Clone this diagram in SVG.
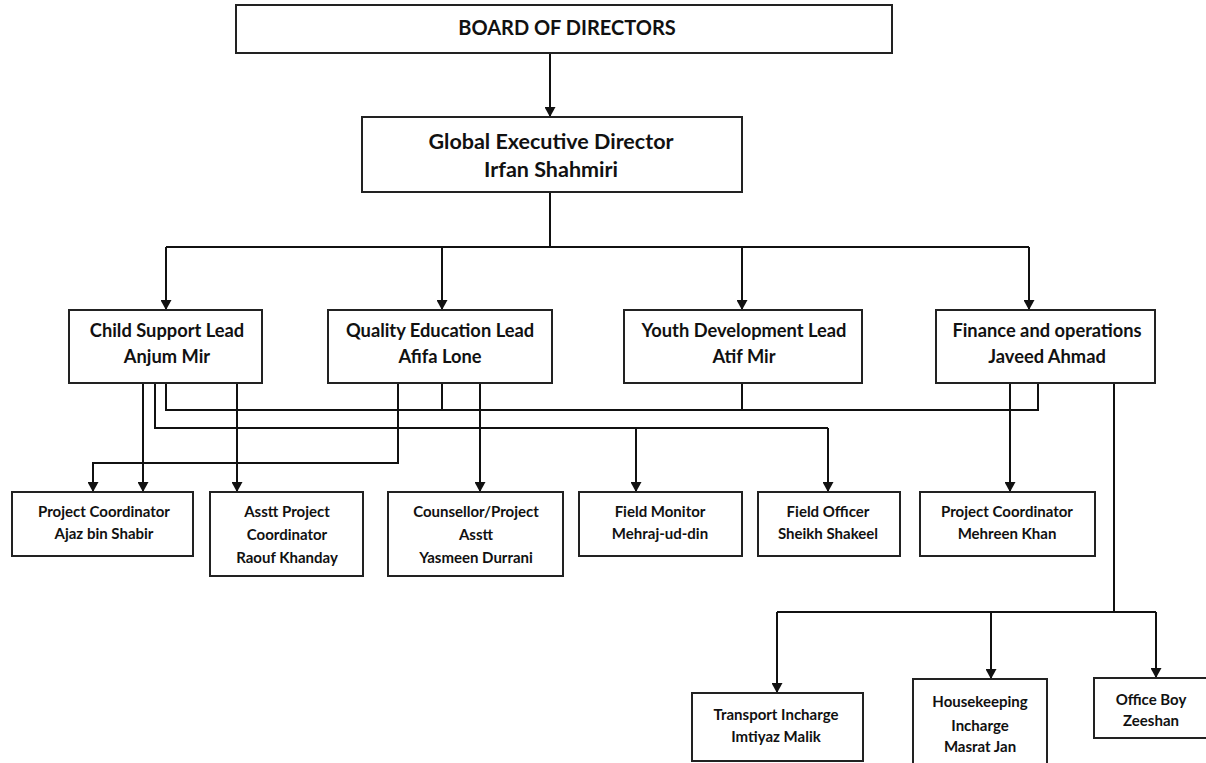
<svg xmlns="http://www.w3.org/2000/svg" width="1206" height="763" viewBox="0 0 1206 763">
<style>
.box{fill:#fff;stroke:#222;stroke-width:2}
.ln{fill:none;stroke:#111;stroke-width:2}
.ar{fill:none;stroke:#111;stroke-width:2;marker-end:url(#arr)}
text{font-family:Lato,"Liberation Sans",sans-serif;font-weight:bold;fill:#111;text-anchor:middle}
.t0{font-size:20px}
.t1{font-size:21.5px}
.t2{font-size:18.3px}
.t3{font-size:15px}
</style>
<defs>
<marker id="arr" markerUnits="userSpaceOnUse" markerWidth="11" markerHeight="11" refX="10" refY="5.5" orient="auto">
<path d="M0,0 L10,5.5 L0,11 z" fill="#111"/>
</marker>
</defs>
<rect width="1206" height="763" fill="#fff"/>
<g id="connectors">
<path class="ar" d="M550,53 V117"/>
<path class="ln" d="M550,192 V247 M166,247 H1029"/>
<path class="ar" d="M166,247 V310"/>
<path class="ar" d="M442,247 V310"/>
<path class="ar" d="M742,247 V310"/>
<path class="ar" d="M1029,247 V310"/>
<path class="ln" d="M166,383 V410 H1038 V383 M442,383 V410 M742,383 V410"/>
<path class="ln" d="M155,383 V428 H828"/>
<path class="ar" d="M636,428 V492"/>
<path class="ar" d="M828,428 V492"/>
<path class="ar" d="M143,383 V492"/>
<path class="ar" d="M237,383 V492"/>
<path class="ar" d="M398,383 V463 H93 V492"/>
<path class="ar" d="M480,383 V492"/>
<path class="ar" d="M1010,383 V492"/>
<path class="ln" d="M1114,383 V612 M777,612 H1156"/>
<path class="ar" d="M777,612 V693"/>
<path class="ar" d="M991,612 V679"/>
<path class="ar" d="M1156,612 V678"/>
</g>
<g id="board"><rect class="box" x="236" y="5" width="656" height="48"/><text class="t0" x="567" y="35">BOARD OF DIRECTORS</text></g>
<g id="ged"><rect class="box" x="362" y="117" width="380" height="75"/><text class="t1" x="551" y="149">Global Executive Director</text><text class="t1" x="551" y="177">Irfan Shahmiri</text></g>
<g id="child-support"><rect class="box" x="69" y="310" width="193" height="73"/><text class="t2" x="167" y="337">Child Support Lead</text><text class="t2" x="167" y="363">Anjum Mir</text></g>
<g id="quality-education"><rect class="box" x="328" y="310" width="224" height="73"/><text class="t2" x="440" y="337">Quality Education Lead</text><text class="t2" x="440" y="363">Afifa Lone</text></g>
<g id="youth-development"><rect class="box" x="624" y="310" width="238" height="73"/><text class="t2" x="744" y="337">Youth Development Lead</text><text class="t2" x="744" y="363">Atif Mir</text></g>
<g id="finance"><rect class="box" x="936" y="310" width="219" height="73"/><text class="t2" x="1047" y="337">Finance and operations</text><text class="t2" x="1047" y="363">Javeed Ahmad</text></g>
<g id="pc-ajaz"><rect class="box" x="12" y="492" width="181" height="64"/><text class="t3" x="104" y="517">Project Coordinator</text><text class="t3" x="104" y="539">Ajaz bin Shabir</text></g>
<g id="apc-raouf"><rect class="box" x="210" y="492" width="153" height="84"/><text class="t3" x="287" y="517">Asstt Project</text><text class="t3" x="287" y="540">Coordinator</text><text class="t3" x="287" y="563">Raouf Khanday</text></g>
<g id="counsellor"><rect class="box" x="388" y="492" width="175" height="84"/><text class="t3" x="476" y="517">Counsellor/Project</text><text class="t3" x="476" y="540">Asstt</text><text class="t3" x="476" y="563">Yasmeen Durrani</text></g>
<g id="field-monitor"><rect class="box" x="579" y="492" width="163" height="64"/><text class="t3" x="660" y="517">Field Monitor</text><text class="t3" x="660" y="539">Mehraj-ud-din</text></g>
<g id="field-officer"><rect class="box" x="758" y="492" width="142" height="64"/><text class="t3" x="828" y="517">Field Officer</text><text class="t3" x="828" y="539">Sheikh Shakeel</text></g>
<g id="pc-mehreen"><rect class="box" x="920" y="492" width="175" height="64"/><text class="t3" x="1007" y="517">Project Coordinator</text><text class="t3" x="1007" y="539">Mehreen Khan</text></g>
<g id="transport"><rect class="box" x="692" y="693" width="171" height="68"/><text class="t3" x="776" y="720">Transport Incharge</text><text class="t3" x="776" y="742">Imtiyaz Malik</text></g>
<g id="housekeeping"><rect class="box" x="913" y="679" width="134" height="100"/><text class="t3" x="980" y="707">Housekeeping</text><text class="t3" x="980" y="731">Incharge</text><text class="t3" x="980" y="752">Masrat Jan</text></g>
<g id="office-boy"><rect class="box" x="1094" y="678" width="130" height="60"/><text class="t3" x="1151" y="705">Office Boy</text><text class="t3" x="1151" y="726">Zeeshan</text></g>
</svg>
